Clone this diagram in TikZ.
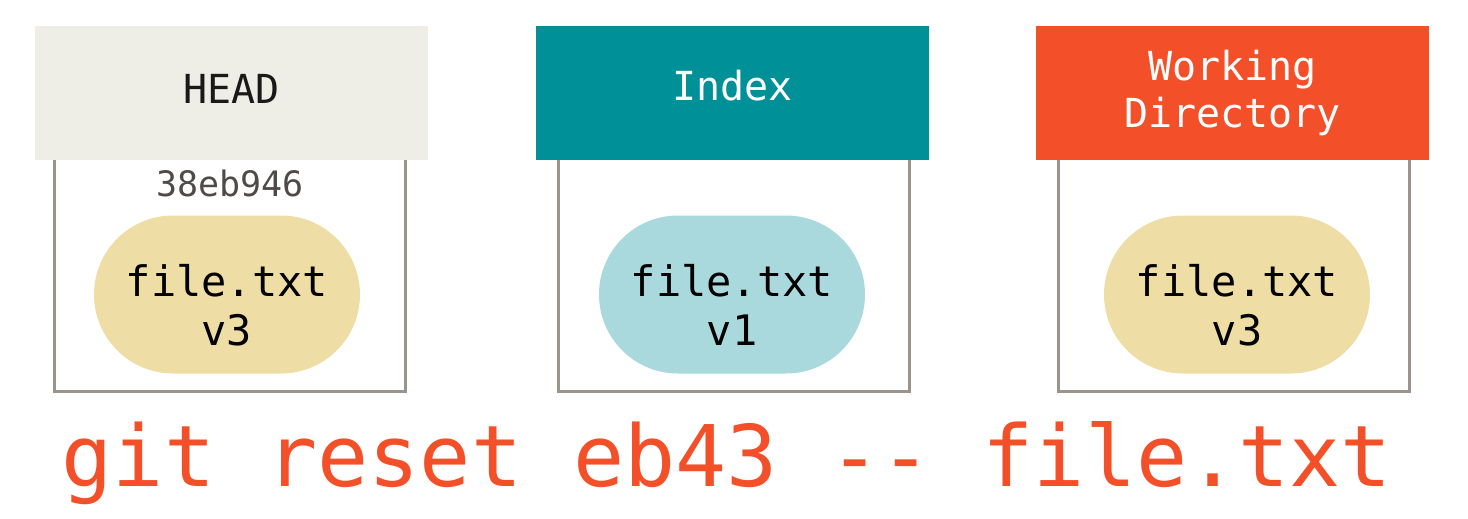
\documentclass[tikz,border=0pt]{standalone}
\usepackage{fontspec}
\usetikzlibrary{shapes.misc}
\newfontfamily\monofont{DejaVu Sans Mono}
\definecolor{headcol}{HTML}{EFEEE6}
\definecolor{indexcol}{HTML}{009098}
\definecolor{wdcol}{HTML}{F34F29}
\definecolor{yellowcol}{HTML}{EEDDA5}
\definecolor{bluecol}{HTML}{A9D9DC}
\definecolor{framecol}{HTML}{9A948C}
\definecolor{shacol}{HTML}{4F4A47}
\begin{document}
\begin{tikzpicture}[x=1pt,y=-1pt,
  frame/.style={draw=framecol, line width=3pt},
  hdr/.style={inner sep=0pt, minimum width=393pt, minimum height=134pt, anchor=north west},
  blob/.style={rounded rectangle, minimum width=266pt, minimum height=158pt, inner sep=0pt},
  hdrtext/.style={anchor=base, font=\monofont\fontsize{40}{47}\selectfont, align=center},
  blobtext/.style={anchor=base, font=\monofont\fontsize{42}{49}\selectfont, align=center, text=black},
]
\useasboundingbox (0,0) rectangle (1468,519);
% frames
\coordinate (f1a) at (54,150); \coordinate (f1b) at (405,391);
\coordinate (f2a) at (558,150); \coordinate (f2b) at (909,391);
\coordinate (f3a) at (1058,150); \coordinate (f3b) at (1409,391);
\draw[frame] (f1a) rectangle (f1b);
\draw[frame] (f2a) rectangle (f2b);
\draw[frame] (f3a) rectangle (f3b);
% headers
\node[hdr, fill=headcol] (head) at (35,26) {};
\node[hdr, fill=indexcol] (index) at (536,26) {};
\node[hdr, fill=wdcol] (wd) at (1036,26) {};
\node[hdrtext, text=black!90] (headt) at (231.5,103) {HEAD};
\node[hdrtext, text=white] (indext) at (732.5,100) {Index};
\node[hdrtext, text=white] (wdt) at (1232.5,127) {Working\\Directory};
% sha
\node[anchor=base, font=\monofont\fontsize{35}{40}\selectfont, text=shacol] (sha) at (230,196) {38eb946};
% blobs
\node[blob, fill=yellowcol] (b1) at (227,294.5) {};
\node[blob, fill=bluecol] (b2) at (732,294.5) {};
\node[blob, fill=yellowcol] (b3) at (1237,294.5) {};
\node[blobtext] (b1t) at (227,345) {file.txt\\v3};
\node[blobtext] (b2t) at (732,345) {file.txt\\v1};
\node[blobtext] (b3t) at (1237,345) {file.txt\\v3};
% command
\node[anchor=base, font=\monofont\fontsize{85}{100}\selectfont, text=wdcol] (cmd) at (727,486) {git reset eb43 -- file.txt};
\end{tikzpicture}
\end{document}
